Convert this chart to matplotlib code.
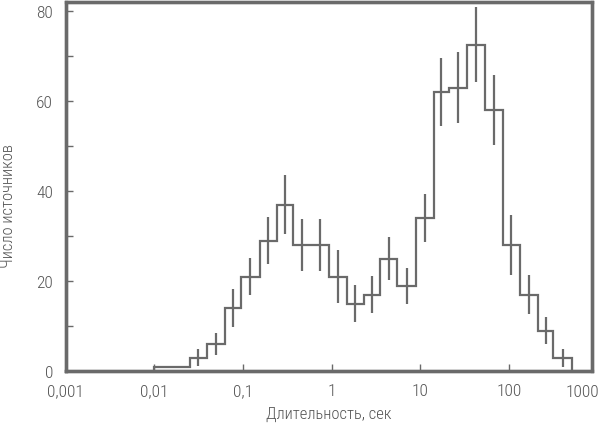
import matplotlib
matplotlib.use("Agg")
import matplotlib.pyplot as plt
import numpy as np

# --- data ---
log_edges = [-2.0, -1.60, -1.41, -1.20, -1.02, -0.81, -0.62, -0.43, -0.23,
             -0.03, 0.17, 0.36, 0.55, 0.74, 0.95, 1.15, 1.32, 1.53, 1.73,
             1.93, 2.12, 2.33, 2.50, 2.71]
counts = [1, 3, 6, 14, 21, 29, 37, 28, 28, 21, 15, 17, 25, 19, 34, 62, 63,
          72.5, 58, 28, 17, 9, 3]
errors = [0, 1.8, 2.4, 4.2, 4.2, 5.3, 6.5, 5.7, 5.7, 5.8, 4.2, 4.1, 4.7, 4.0,
          5.4, 7.5, 7.9, 8.3, 7.7, 6.6, 4.4, 3.1, 2.0]
x_ticks = [0.001, 0.01, 0.1, 1, 10, 100]
x_ticklabels = ["0,001", "0,01", "0,1", "1", "10", "100"]
y_ticks = [0, 20, 40, 60, 80]
y_minor = [10, 30, 50, 70]
xlabel = "Длительность, сек"
ylabel = "Число источников"

plt.rcParams["font.family"] = ["Roboto Condensed", "DejaVu Sans"]

LC = "#6a6a6a"
TC = "#555555"
FS = 12.5

fig = plt.figure(figsize=(6.0, 4.27), dpi=100)
ax = fig.add_axes([65.5 / 600, 1 - 372 / 427, (592 - 65.5) / 600, (372 - 3) / 427])

edges = 10 ** np.array(log_edges)
centers = 10 ** ((np.array(log_edges[:-1]) + np.array(log_edges[1:])) / 2)
ax.stairs(counts, edges, baseline=0, color=LC, linewidth=1.6)
mask = np.array(errors) > 0
ax.errorbar(centers[mask], np.array(counts)[mask], yerr=np.array(errors)[mask],
            fmt="none", ecolor=LC, elinewidth=1.6, capsize=0)

ax.set_xscale("log")
ax.set_xlim(0.001, 10 ** 2.935)
ax.set_ylim(0, 82)
ax.set_xticks(x_ticks)
ax.set_xticklabels(x_ticklabels)
ax.xaxis.set_minor_locator(matplotlib.ticker.NullLocator())
ax.set_yticks(y_ticks)
ax.set_yticks(y_minor, minor=True)

for sp in ax.spines.values():
    sp.set_visible(True)
    sp.set_linewidth(2.4)
    sp.set_edgecolor(LC)
# explicit frame drawn as a line in axes coordinates
ax.plot([0, 1, 1, 0, 0], [0, 0, 1, 1, 0], transform=ax.transAxes,
        color=LC, linewidth=2.4, clip_on=False, zorder=6,
        solid_joinstyle="miter", solid_capstyle="projecting")

ax.tick_params(axis="both", which="both", direction="in", length=5, width=1,
               color=LC, labelcolor=TC, labelsize=FS)
ax.tick_params(axis="x", pad=9)
ax.tick_params(axis="y", pad=9)
for lbl in ax.get_xticklabels() + ax.get_yticklabels():
    lbl.set_fontweight("light")

fig.text(599 / 600, 1 - 393 / 427, "1000", ha="right", va="center",
         fontsize=FS, color=TC, fontweight="light")

ax.set_xlabel(xlabel, fontsize=12, color=TC, labelpad=5, fontweight="light")
ax.set_ylabel(ylabel, fontsize=12, color=TC, fontweight="light")
ax.yaxis.set_label_coords(-0.094, 0.45)

fig.savefig("out.png", dpi=100)
